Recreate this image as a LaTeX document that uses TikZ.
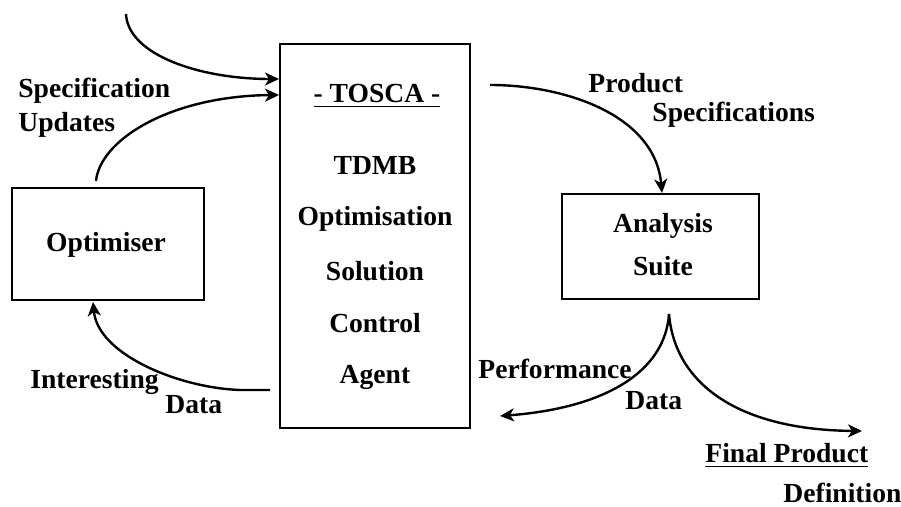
\documentclass[tikz,border=0pt]{standalone}
\usepackage{fontspec}
\setmainfont{Liberation Serif}
\usetikzlibrary{arrows.meta}
\begin{document}
\begin{tikzpicture}[x=0.5pt,y=-0.5pt,
  box/.style={draw, line width=1.3pt, inner sep=0pt, outer sep=0pt},
  lbl/.style={inner sep=0pt, anchor=base west, font=\fontsize{13.8}{16}\selectfont\bfseries},
  clbl/.style={inner sep=0pt, anchor=base, font=\fontsize{13.8}{16}\selectfont\bfseries},
  conn/.style={line width=1.2pt, -{Stealth[length=7pt,width=6.5pt,inset=2pt]}}]
\useasboundingbox (0,0) rectangle (901,507);
\fill[white] (0,0) rectangle (901,507);
% boxes
\node[box, minimum width=95pt, minimum height=192pt] (tosca) at (375,236) {};
\node[box, minimum width=96pt, minimum height=56pt] (opt) at (108,244) {};
\node[box, minimum width=98.5pt, minimum height=52.5pt] (ana) at (660.5,246.5) {};
% box texts
\node[clbl] (tt) at (377,103) {\underline{- TOSCA -}};
\node[clbl] (t1) at (375,175) {TDMB};
\node[clbl] (t2) at (375,226) {Optimisation};
\node[clbl] (t3) at (375,281) {Solution};
\node[clbl] (t4) at (375,333) {Control};
\node[clbl] (t5) at (375,384) {Agent};
\node[clbl] (ot) at (106,252) {Optimiser};
\node[clbl] (a1) at (663,233) {Analysis};
\node[clbl] (a2) at (663,276) {Suite};
% labels
\node[lbl] (l1) at (18,98) {Specification};
\node[lbl] (l2) at (18,132) {Updates};
\node[lbl] (l3) at (588,93) {Product};
\node[lbl] (l4) at (652,122) {Specifications};
\node[lbl] (l5) at (30,389) {Interesting};
\node[lbl] (l6) at (165,414) {Data};
\node[lbl] (l7) at (478,379) {Performance};
\node[lbl] (l8) at (625,410) {Data};
\node[lbl] (l9) at (705,463) {\underline{Final Product}};
\node[lbl] (l10) at (783,503) {Definition};
% connector end points
\coordinate (s0) at (126,14);
\coordinate (e0) at (279,79);
\coordinate (s1) at (96,181);
\coordinate (e1) at (279,95);
\coordinate (s2) at (490,85);
\coordinate (e2) at (662,193);
\coordinate (s3) at (270,390);
\coordinate (e3) at (93,302);
\coordinate (s4) at (669,314);
\coordinate (e4) at (500,416);
\coordinate (e5) at (862,431);
% connectors
\draw[conn] (s0) .. controls (128,55) and (200,79) .. (e0);
\draw[conn] (s1) .. controls (100,140) and (170,96) .. (e1);
\draw[conn] (s2) .. controls (565,85) and (655,115) .. (e2);
\draw[conn] (s3) -- (240,390) .. controls (180,388) and (98,355) .. (e3);
\draw[conn] (s4) .. controls (665,372) and (605,408) .. (e4);
\draw[conn] (s4) .. controls (675,385) and (740,430) .. (e5);
\end{tikzpicture}
\end{document}
